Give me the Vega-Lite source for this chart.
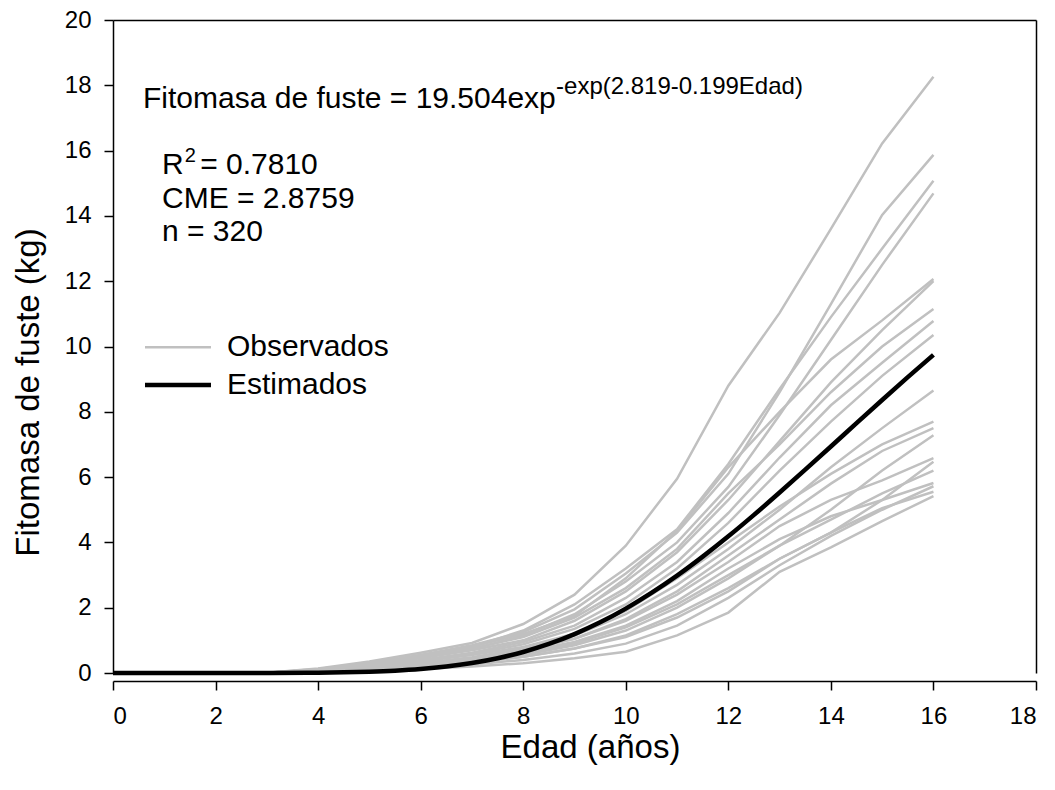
{
  "$schema": "https://vega.github.io/schema/vega-lite/v6.json",
  "width": 923,
  "height": 653,
  "autosize": {"type": "none"},
  "padding": {"left": 113, "top": 20, "right": 19, "bottom": 117},
  "background": "white",
  "config": {"view": {"stroke": null}, "font": "Liberation Sans"},
  "datasets": {
    "obs": [
      {"edad": 0, "A": 0, "B": 0, "C": 0, "D": 0, "E": 0, "F": 0, "G": 0, "H": 0, "I": 0, "J": 0, "K": 0, "L": 0, "M": 0, "N": 0, "O": 0, "P": 0, "Q": 0, "R": 0, "S": 0, "T": 0},
      {"edad": 1, "A": 0, "B": 0, "C": 0, "D": 0, "E": 0, "F": 0, "G": 0, "H": 0, "I": 0, "J": 0, "K": 0, "L": 0, "M": 0, "N": 0, "O": 0, "P": 0, "Q": 0, "R": 0, "S": 0, "T": 0},
      {"edad": 2, "A": 0, "B": 0, "C": 0, "D": 0, "E": 0, "F": 0, "G": 0, "H": 0, "I": 0, "J": 0, "K": 0, "L": 0, "M": 0, "N": 0, "O": 0, "P": 0, "Q": 0, "R": 0, "S": 0, "T": 0},
      {"edad": 3, "A": 0.01, "B": 0.01, "C": 0.01, "D": 0.01, "E": 0.01, "F": 0.01, "G": 0.01, "H": 0.01, "I": 0.01, "J": 0.01, "K": 0.01, "L": 0.01, "M": 0.01, "N": 0.01, "O": 0.01, "P": 0.01, "Q": 0.01, "R": 0.01, "S": 0.01, "T": 0},
      {"edad": 4, "A": 0.14, "B": 0.12, "C": 0.1, "D": 0.1, "E": 0.11, "F": 0.09, "G": 0.1, "H": 0.08, "I": 0.08, "J": 0.06, "K": 0.07, "L": 0.06, "M": 0.05, "N": 0.06, "O": 0.04, "P": 0.05, "Q": 0.05, "R": 0.03, "S": 0.04, "T": 0.02},
      {"edad": 5, "A": 0.35, "B": 0.3, "C": 0.28, "D": 0.25, "E": 0.3, "F": 0.25, "G": 0.27, "H": 0.2, "I": 0.2, "J": 0.16, "K": 0.18, "L": 0.15, "M": 0.12, "N": 0.15, "O": 0.1, "P": 0.12, "Q": 0.13, "R": 0.08, "S": 0.1, "T": 0.06},
      {"edad": 6, "A": 0.62, "B": 0.55, "C": 0.5, "D": 0.48, "E": 0.55, "F": 0.45, "G": 0.5, "H": 0.4, "I": 0.38, "J": 0.3, "K": 0.35, "L": 0.28, "M": 0.22, "N": 0.3, "O": 0.2, "P": 0.24, "Q": 0.26, "R": 0.16, "S": 0.2, "T": 0.12},
      {"edad": 7, "A": 0.92, "B": 0.85, "C": 0.8, "D": 0.72, "E": 0.8, "F": 0.7, "G": 0.75, "H": 0.62, "I": 0.58, "J": 0.48, "K": 0.55, "L": 0.45, "M": 0.35, "N": 0.46, "O": 0.32, "P": 0.38, "Q": 0.42, "R": 0.26, "S": 0.32, "T": 0.2},
      {"edad": 8, "A": 1.5, "B": 1.25, "C": 1.3, "D": 1.15, "E": 1.2, "F": 1.0, "G": 1.1, "H": 0.95, "I": 0.88, "J": 0.75, "K": 0.8, "L": 0.7, "M": 0.55, "N": 0.7, "O": 0.5, "P": 0.6, "Q": 0.65, "R": 0.4, "S": 0.5, "T": 0.3},
      {"edad": 9, "A": 2.4, "B": 1.95, "C": 2.1, "D": 1.8, "E": 1.75, "F": 1.6, "G": 1.7, "H": 1.45, "I": 1.35, "J": 1.15, "K": 1.2, "L": 1.05, "M": 0.85, "N": 1.05, "O": 0.75, "P": 0.9, "Q": 0.95, "R": 0.6, "S": 0.75, "T": 0.45},
      {"edad": 10, "A": 3.9, "B": 3.05, "C": 3.2, "D": 2.8, "E": 2.9, "F": 2.5, "G": 2.6, "H": 2.3, "I": 2.1, "J": 1.8, "K": 1.9, "L": 1.65, "M": 1.3, "N": 1.6, "O": 1.15, "P": 1.4, "Q": 1.45, "R": 0.9, "S": 1.1, "T": 0.65},
      {"edad": 11, "A": 5.95, "B": 4.3, "C": 4.4, "D": 4.0, "E": 4.35, "F": 3.7, "G": 3.8, "H": 3.4, "I": 3.2, "J": 2.7, "K": 2.9, "L": 2.5, "M": 2.0, "N": 2.4, "O": 1.8, "P": 2.1, "Q": 2.2, "R": 1.45, "S": 1.7, "T": 1.15},
      {"edad": 12, "A": 8.8, "B": 6.1, "C": 6.4, "D": 5.7, "E": 6.3, "F": 5.3, "G": 5.5, "H": 4.9, "I": 4.6, "J": 3.8, "K": 4.0, "L": 3.6, "M": 2.9, "N": 3.4, "O": 2.6, "P": 3.0, "Q": 3.2, "R": 2.3, "S": 2.5, "T": 1.85},
      {"edad": 13, "A": 11.03, "B": 8.6, "C": 8.7, "D": 7.9, "E": 8.0, "F": 7.1, "G": 7.0, "H": 6.6, "I": 6.2, "J": 5.0, "K": 5.1, "L": 4.7, "M": 3.9, "N": 4.5, "O": 3.5, "P": 3.9, "Q": 4.1, "R": 3.3, "S": 3.5, "T": 3.1},
      {"edad": 14, "A": 13.6, "B": 11.3, "C": 10.9, "D": 10.2, "E": 9.6, "F": 8.9, "G": 8.6, "H": 8.2, "I": 7.7, "J": 6.3, "K": 6.1, "L": 5.8, "M": 5.0, "N": 5.3, "O": 4.3, "P": 4.7, "Q": 4.8, "R": 4.2, "S": 4.3, "T": 3.85},
      {"edad": 15, "A": 16.22, "B": 14.03, "C": 13.0, "D": 12.5, "E": 10.8, "F": 10.5, "G": 10.0, "H": 9.5, "I": 9.1, "J": 7.5, "K": 7.0, "L": 6.8, "M": 6.2, "N": 5.9, "O": 5.3, "P": 5.5, "Q": 5.3, "R": 5.0, "S": 5.05, "T": 4.65},
      {"edad": 16, "A": 18.26, "B": 15.87, "C": 15.08, "D": 14.69, "E": 12.07, "F": 12.0, "G": 11.15, "H": 10.78, "I": 10.35, "J": 8.65, "K": 7.7, "L": 7.5, "M": 7.28, "N": 6.58, "O": 6.47, "P": 6.2, "Q": 5.82, "R": 5.72, "S": 5.55, "T": 5.42}
    ],
    "est": [
      {"edad": 0, "fitomasa": 0},
      {"edad": 1, "fitomasa": 0.00002},
      {"edad": 2, "fitomasa": 0.00025},
      {"edad": 3, "fitomasa": 0.0019},
      {"edad": 4, "fitomasa": 0.0101},
      {"edad": 4.5, "fitomasa": 0.0208},
      {"edad": 5, "fitomasa": 0.0397},
      {"edad": 5.5, "fitomasa": 0.0714},
      {"edad": 6, "fitomasa": 0.1215},
      {"edad": 6.5, "fitomasa": 0.197},
      {"edad": 7, "fitomasa": 0.304},
      {"edad": 7.5, "fitomasa": 0.45},
      {"edad": 8, "fitomasa": 0.644},
      {"edad": 8.5, "fitomasa": 0.889},
      {"edad": 9, "fitomasa": 1.192},
      {"edad": 9.5, "fitomasa": 1.552},
      {"edad": 10, "fitomasa": 1.973},
      {"edad": 10.5, "fitomasa": 2.452},
      {"edad": 11, "fitomasa": 2.982},
      {"edad": 11.5, "fitomasa": 3.564},
      {"edad": 12, "fitomasa": 4.186},
      {"edad": 12.5, "fitomasa": 4.843},
      {"edad": 13, "fitomasa": 5.528},
      {"edad": 13.5, "fitomasa": 6.228},
      {"edad": 14, "fitomasa": 6.937},
      {"edad": 14.5, "fitomasa": 7.652},
      {"edad": 15, "fitomasa": 8.361},
      {"edad": 15.5, "fitomasa": 9.06},
      {"edad": 16, "fitomasa": 9.742}
    ],
    "leyenda": [
      {"serie": "Observados", "x1": 0.624, "x2": 1.911, "xt": 2.223, "y": 9.98},
      {"serie": "Estimados", "x1": 0.624, "x2": 1.911, "xt": 2.223, "y": 8.82}
    ],
    "ecuacion": [{"x": 0.585, "y": 17.3, "texto": "Fitomasa de fuste = 19.504exp"}],
    "exponente": [{"x": 8.64, "y": 17.73, "texto": "-exp(2.819-0.199Edad)"}],
    "stats": [
      {"x": 0.955, "y": 15.28, "texto": "R"},
      {"x": 0.955, "y": 14.24, "texto": "CME = 2.8759"},
      {"x": 0.955, "y": 13.23, "texto": "n = 320"}
    ],
    "stats2": [{"x": 1.7, "y": 15.28, "texto": "= 0.7810"}],
    "r2": [{"x": 1.4, "y": 15.65, "texto": "2"}]
  },
  "resolve": {"axis": {"x": "independent", "y": "independent"}},
  "layer": [
    {
      "data": {"name": "obs"},
      "transform": [{"fold": ["A","B","C","D","E","F","G","H","I","J","K","L","M","N","O","P","Q","R","S","T"], "as": ["arbol", "fitomasa"]}],
      "mark": {"type": "line", "color": "#c0c0c0", "strokeWidth": 2.5},
      "encoding": {
        "x": {"field": "edad", "type": "quantitative", "scale": {"domain": [0, 18], "nice": false},
          "axis": {"orient": "bottom", "values": [0,2,4,6,8,10,12,14,16,18], "offset": 8, "grid": false,
            "domainColor": "black", "domainWidth": 1.5, "tickColor": "black", "tickWidth": 1.5, "tickSize": 9,
            "labelFontSize": 24, "labelColor": "black", "labelPadding": 14, "labelFont": "Liberation Sans",
            "title": "Edad (años)", "titleFontSize": 33, "titleFontWeight": "normal", "titleColor": "black", "titleFont": "Liberation Sans",
            "titleX": 477, "titleY": 66, "titleBaseline": "middle", "titleAlign": "center"}},
        "y": {"field": "fitomasa", "type": "quantitative", "scale": {"domain": [0, 20], "nice": false},
          "axis": {"orient": "left", "values": [0,2,4,6,8,10,12,14,16,18,20], "grid": false,
            "domainColor": "black", "domainWidth": 1.5, "tickColor": "black", "tickWidth": 1.5, "tickSize": 9,
            "labelFontSize": 24, "labelColor": "black", "labelPadding": 13, "labelFont": "Liberation Sans",
            "title": "Fitomasa de fuste (kg)", "titleFontSize": 33, "titleFontWeight": "normal", "titleColor": "black", "titleFont": "Liberation Sans",
            "titleX": -85, "titleY": 372, "titleBaseline": "middle", "titleAlign": "center", "titleAngle": -90}},
        "detail": {"field": "arbol"}
      }
    },
    {
      "data": {"name": "est"},
      "mark": {"type": "line", "color": "black", "strokeWidth": 4.5, "interpolate": "monotone"},
      "encoding": {
        "x": {"field": "edad", "type": "quantitative", "scale": {"domain": [0, 18], "nice": false},
          "axis": {"orient": "top", "labels": false, "ticks": false, "title": null, "grid": false, "domainColor": "black", "domainWidth": 1.5}},
        "y": {"field": "fitomasa", "type": "quantitative", "scale": {"domain": [0, 20], "nice": false},
          "axis": {"orient": "right", "labels": false, "ticks": false, "title": null, "grid": false, "domainColor": "black", "domainWidth": 1.5}}
      }
    },
    {
      "data": {"name": "leyenda"},
      "mark": {"type": "rule"},
      "encoding": {
        "x": {"field": "x1", "type": "quantitative", "scale": {"domain": [0, 18], "nice": false}, "axis": null},
        "x2": {"field": "x2"},
        "y": {"field": "y", "type": "quantitative", "scale": {"domain": [0, 20], "nice": false}, "axis": null},
        "color": {"field": "serie", "type": "nominal", "scale": {"domain": ["Observados", "Estimados"], "range": ["#c0c0c0", "black"]}, "legend": null},
        "strokeWidth": {"field": "serie", "type": "nominal", "scale": {"domain": ["Observados", "Estimados"], "range": [2.5, 4.5]}, "legend": null}
      }
    },
    {
      "data": {"name": "leyenda"},
      "mark": {"type": "text", "align": "left", "baseline": "middle", "fontSize": 30, "font": "Liberation Sans", "color": "black"},
      "encoding": {
        "x": {"field": "xt", "type": "quantitative", "scale": {"domain": [0, 18], "nice": false}, "axis": null},
        "y": {"field": "y", "type": "quantitative", "scale": {"domain": [0, 20], "nice": false}, "axis": null},
        "text": {"field": "serie"}
      }
    },
    {
      "data": {"name": "ecuacion"},
      "mark": {"type": "text", "align": "left", "baseline": "alphabetic", "fontSize": 30, "font": "Liberation Sans", "color": "black"},
      "encoding": {
        "x": {"field": "x", "type": "quantitative", "scale": {"domain": [0, 18], "nice": false}, "axis": null},
        "y": {"field": "y", "type": "quantitative", "scale": {"domain": [0, 20], "nice": false}, "axis": null},
        "text": {"field": "texto"}
      }
    },
    {
      "data": {"name": "exponente"},
      "mark": {"type": "text", "align": "left", "baseline": "alphabetic", "fontSize": 24, "font": "Liberation Sans", "color": "black"},
      "encoding": {
        "x": {"field": "x", "type": "quantitative", "scale": {"domain": [0, 18], "nice": false}, "axis": null},
        "y": {"field": "y", "type": "quantitative", "scale": {"domain": [0, 20], "nice": false}, "axis": null},
        "text": {"field": "texto"}
      }
    },
    {
      "data": {"name": "stats"},
      "mark": {"type": "text", "align": "left", "baseline": "alphabetic", "fontSize": 30, "font": "Liberation Sans", "color": "black"},
      "encoding": {
        "x": {"field": "x", "type": "quantitative", "scale": {"domain": [0, 18], "nice": false}, "axis": null},
        "y": {"field": "y", "type": "quantitative", "scale": {"domain": [0, 20], "nice": false}, "axis": null},
        "text": {"field": "texto"}
      }
    },
    {
      "data": {"name": "stats2"},
      "mark": {"type": "text", "align": "left", "baseline": "alphabetic", "fontSize": 30, "font": "Liberation Sans", "color": "black"},
      "encoding": {
        "x": {"field": "x", "type": "quantitative", "scale": {"domain": [0, 18], "nice": false}, "axis": null},
        "y": {"field": "y", "type": "quantitative", "scale": {"domain": [0, 20], "nice": false}, "axis": null},
        "text": {"field": "texto"}
      }
    },
    {
      "data": {"name": "r2"},
      "mark": {"type": "text", "align": "left", "baseline": "alphabetic", "fontSize": 20, "font": "Liberation Sans", "color": "black"},
      "encoding": {
        "x": {"field": "x", "type": "quantitative", "scale": {"domain": [0, 18], "nice": false}, "axis": null},
        "y": {"field": "y", "type": "quantitative", "scale": {"domain": [0, 20], "nice": false}, "axis": null},
        "text": {"field": "texto"}
      }
    }
  ]
}
